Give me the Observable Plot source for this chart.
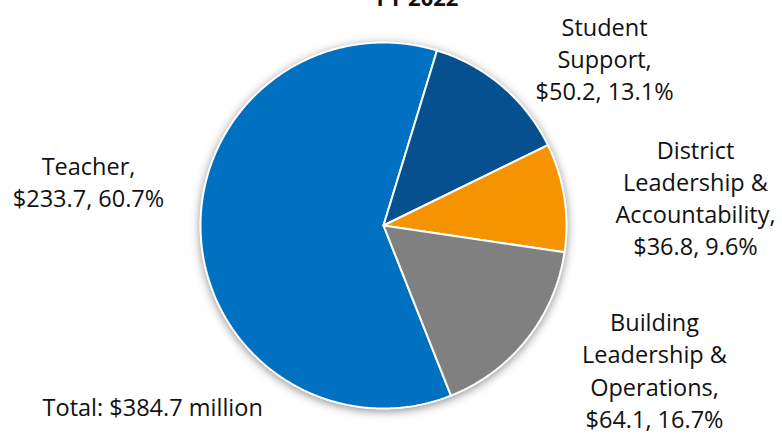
<!DOCTYPE html>
<html><head><meta charset="utf-8">
<script src="https://cdn.jsdelivr.net/npm/d3@7"></script>
<script src="https://cdn.jsdelivr.net/npm/@observablehq/plot@0.6"></script>
<style>body{margin:0;background:#fff;} #chart svg{display:block;}</style>
</head><body><div id="chart"></div>
<script>
const title = "FY 2022";
const categories = ["Teacher", "Student Support", "District Leadership & Accountability", "Building Leadership & Operations"];
const labelNames = ["Teacher,", "Student\nSupport,", "District\nLeadership &\nAccountability,", "Building\nLeadership &\nOperations,"];
const values = [233.7, 50.2, 36.8, 64.1];
const percents = [60.7, 13.1, 9.6, 16.7];
const totalLabel = "Total: $384.7 million";
const colors = ["#0070C0", "#07508F", "#F59300", "#808080"];

const rad = d => d * Math.PI / 180;
const rows = categories.map((c, i) => ({category: c, value: values[i], pct: percents[i], name: labelNames[i]}));
const sum = d3.sum(values);
// Student Support begins just right of 12 o'clock; Teacher wraps round the left
const start = rad(17) - 2 * Math.PI * values[0] / sum;
const arcs = d3.pie().sort(null).value(d => d.value).startAngle(start).endAngle(start + 2 * Math.PI)(rows);

const pts = [];
for (const a of arcs) {
  const n = Math.max(4, Math.ceil((a.endAngle - a.startAngle) / rad(0.5)));
  pts.push({category: a.data.category, x: 0, y: 0});
  for (let k = 0; k <= n; k++) {
    const t = a.startAngle + (a.endAngle - a.startAngle) * k / n;
    pts.push({category: a.data.category, x: Math.sin(t), y: Math.cos(t)});
  }
  pts.push({category: a.data.category, x: 0, y: 0});
}
const circle = d3.range(0, 721).map(k => ({x: Math.sin(rad(k / 2)), y: Math.cos(rad(k / 2))}));

// label anchor points (pie radius units)
const labelAt = {
  "Teacher": [-1.612, 0.246],
  "Student Support": [1.208, 0.918],
  "District Leadership & Accountability": [1.705, 0.158],
  "Building Leadership & Operations": [1.481, -0.785]
};
const labels = rows.map(r => ({
  x: labelAt[r.category][0], y: labelAt[r.category][1],
  text: `${r.name}\n$${r.value.toFixed(1)}, ${r.pct.toFixed(1)}%`
}));

const font = "'Open Sans', sans-serif";
const chart = Plot.plot({
  width: 782, height: 435,
  margin: 0,
  style: {fontFamily: font, background: "#fff"},
  x: {domain: [-1, 1], range: [200, 566], axis: null},
  y: {domain: [-1, 1], range: [408, 42], axis: null},
  color: {domain: categories, range: colors},
  marks: [
    Plot.line(circle, {x: "x", y: "y", fill: "white", stroke: "white", imageFilter: "drop-shadow(0px 2px 5px rgba(0,0,0,0.45))"}),
    Plot.line(pts, {x: "x", y: "y", z: "category", fill: "category", stroke: "white", strokeWidth: 2, strokeLinejoin: "miter"}),
    Plot.text(labels, {x: "x", y: "y", text: "text", fontSize: 23.5, lineHeight: 1.37, fill: "#111", textAnchor: "middle", lineAnchor: "middle"}),
    Plot.text([totalLabel], {x: () => -1.863, y: () => -1.0, text: d => d, fontSize: 23.5, fill: "#111", textAnchor: "start", lineAnchor: "middle"}),
    Plot.text([title], {frameAnchor: "top", dx: 26, dy: 5, text: d => d, fontSize: 22, fontWeight: "bold", fill: "#111", lineAnchor: "bottom"})
  ]
});
document.getElementById("chart").appendChild(chart);
</script>
</body></html>
